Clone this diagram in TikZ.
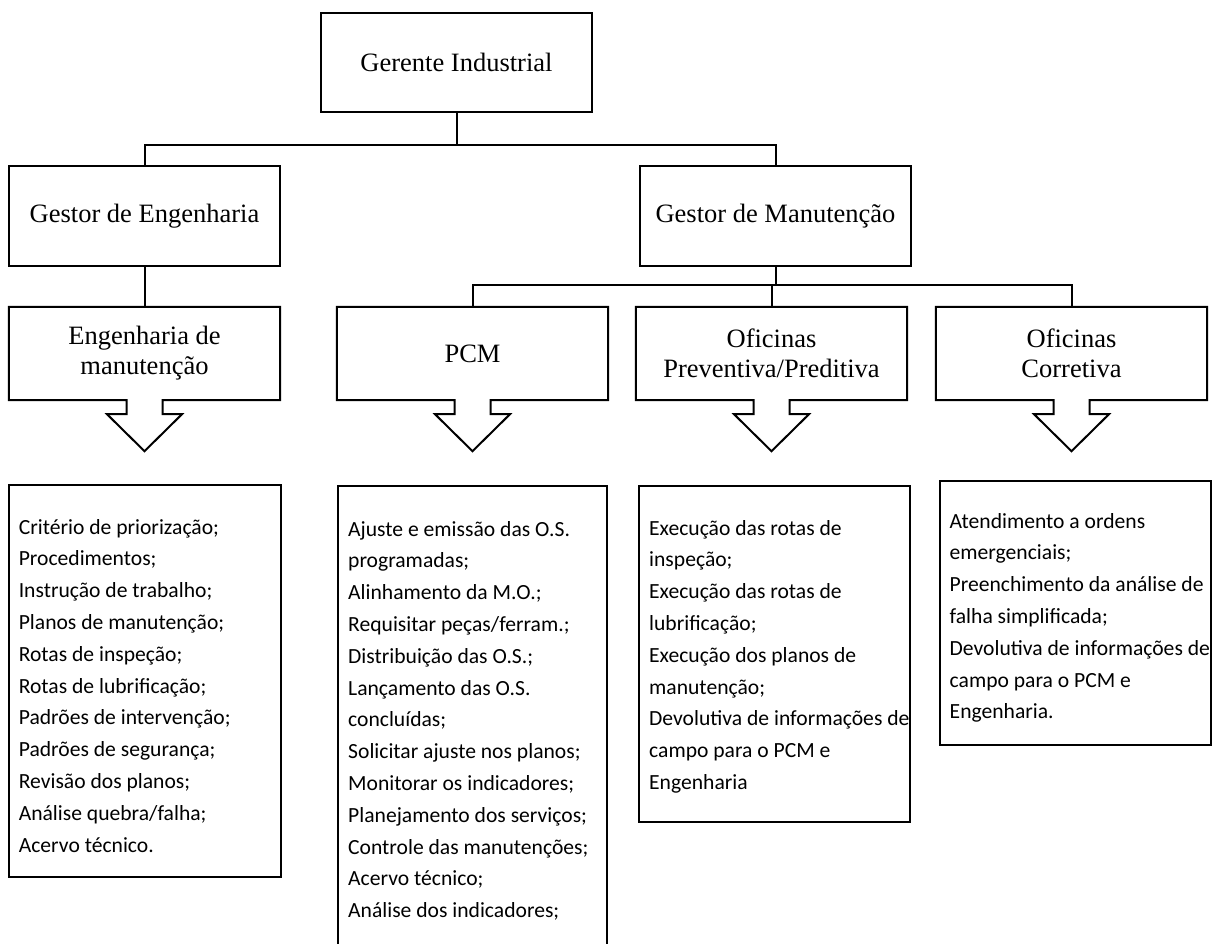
\documentclass[tikz,border=0pt]{standalone}
\usepackage{fontspec}
\setmainfont{Liberation Serif}
\newfontfamily\listfont{Carlito}
\usetikzlibrary{calc}

\tikzset{
  unitbox/.style={draw, line width=2pt, inner sep=0pt, minimum width=271pt,
    align=center, font=\fontsize{26.5}{30}\selectfont},
  calloutnode/.style={inner sep=0pt, minimum width=271pt, minimum height=93pt,
    align=center, font=\fontsize{26.5}{30}\selectfont},
  listbox/.style={draw, line width=2pt, inner sep=0pt},
  % the base anchor of a multi-line node sits on its last line
  listtext/.style={anchor=base west, inner sep=0pt, align=left,
    font=\listfont\fontsize{21.6}{31.8}\selectfont},
  link/.style={line width=2pt},
}

% box with a down-pointing arrow on its lower side, drawn as one outline
\newcommand{\downcallout}[1]{%
  \draw[link] (#1.south west) -- (#1.north west) -- (#1.north east) -- (#1.south east)
    -- ($(#1.south)+(18,0)$) -- ++(0,-14) -- ++(19.5,0) -- ($(#1.south)+(0,-51)$)
    -- ($(#1.south)+(-37.5,-14)$) -- ++(19.5,0) -- ($(#1.south)+(-18,0)$) -- cycle;}

\begin{document}
\begin{tikzpicture}[x=1pt,y=1pt]
\useasboundingbox (0,0) rectangle (1215,943);
\clip (0,0) rectangle (1215,943);

% management levels
\node[unitbox, minimum height=99pt] (ger) at (456.5,880.5) {Gerente Industrial};
\node[unitbox, minimum height=100pt] (ge) at (144.5,727) {Gestor de Engenharia};
\node[unitbox, minimum height=100pt] (gm) at (775.5,727) {Gestor de Manutenção};

% areas with their arrows
\node[calloutnode] (em) at (144.5,589.5) {Engenharia de\\manutenção};
\node[calloutnode] (pcm) at (472.5,589.5) {PCM};
\node[calloutnode] (prev) at (771.5,589.5) {Oficinas\\Preventiva/Preditiva};
\node[calloutnode] (corr) at (1071.5,589.5) {Oficinas\\Corretiva};
\downcallout{em}
\downcallout{pcm}
\downcallout{prev}
\downcallout{corr}

% connectors
\coordinate (j1) at (456.5,798);
\coordinate (j2) at (775.5,658);
\draw[link] (ger.south) -- (j1);
\draw[link] (ge.north) |- (j1) -| (gm.north);
\draw[link] (ge.south) -- (em.north);
\draw[link] (gm.south) -- (j2);
\draw[link] (pcm.north) |- (j2) -| (corr.north);
\draw[link] (prev.north) -- (prev.north |- j2);

% activity lists
\node[listbox, minimum width=272pt, minimum height=392pt] (l1) at (145,262) {};
\node[listbox, minimum width=269.5pt, minimum height=497pt] (l2) at (472.25,208.5) {};
\node[listbox, minimum width=271pt, minimum height=336pt] (l3) at (774,289) {};
\node[listbox, minimum width=271.5pt, minimum height=264pt] (l4) at (1075.25,330) {};

\node[listtext] (t1) at (18.6,91) {Critério de priorização;\\Procedimentos;\\Instrução de trabalho;\\Planos de manutenção;\\Rotas de inspeção;\\Rotas de lubrificação;\\Padrões de intervenção;\\Padrões de segurança;\\Revisão dos planos;\\Análise quebra/falha;\\Acervo técnico.};
\node[listtext] (t2) at (348,25.4) {Ajuste e emissão das O.S.\\programadas;\\Alinhamento da M.O.;\\Requisitar peças/ferram.;\\Distribuição das O.S.;\\Lançamento das O.S.\\concluídas;\\Solicitar ajuste nos planos;\\Monitorar os indicadores;\\Planejamento dos serviços;\\Controle das manutenções;\\Acervo técnico;\\Análise dos indicadores;};
\node[listtext] (t3) at (649,153.6) {Execução das rotas de\\inspeção;\\Execução das rotas de\\lubrificação;\\Execução dos planos de\\manutenção;\\Devolutiva de informações de\\campo para o PCM e\\Engenharia};
\node[listtext] (t4) at (949.5,224.2) {Atendimento a ordens\\emergenciais;\\Preenchimento da análise de\\falha simplificada;\\Devolutiva de informações de\\campo para o PCM e\\Engenharia.};
\end{tikzpicture}
\end{document}
